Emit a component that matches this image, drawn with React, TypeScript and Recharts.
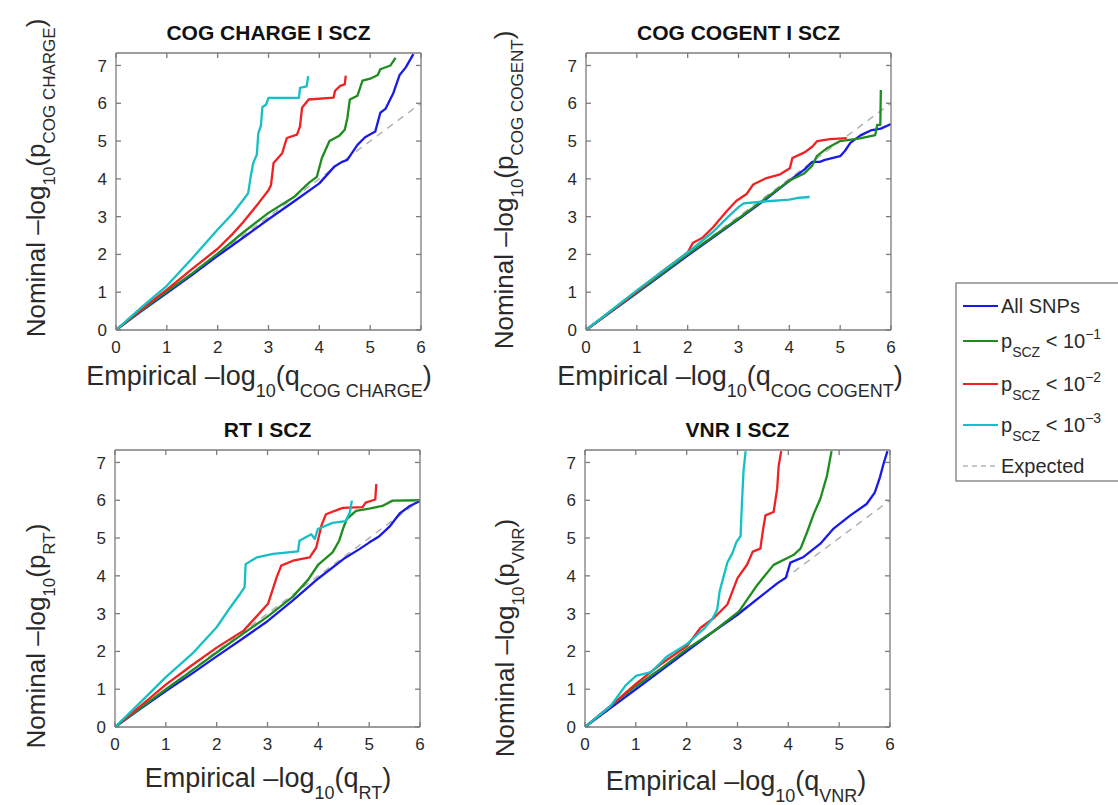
import React from 'react';
import { LineChart, Line, XAxis, YAxis } from 'recharts';

type Pt = [number, number];

// ---------- axes / categories ----------
const X_TICKS = [0, 1, 2, 3, 4, 5, 6];
const Y_TICKS = [0, 1, 2, 3, 4, 5, 6, 7];
const X_DOMAIN: [number, number] = [0, 6];
const Y_DOMAIN: [number, number] = [0, 7.33];

const PANEL_TITLES = ['COG CHARGE I SCZ', 'COG COGENT I SCZ', 'RT I SCZ', 'VNR I SCZ'];
const PANEL_SUBS = ['COG CHARGE', 'COG COGENT', 'RT', 'VNR'];
const LEGEND_LABELS = ['All SNPs', '10', '10', '10', 'Expected'];
const LEGEND_EXPONENTS = ['', '−1', '−2', '−3', ''];

// ---------- expected (null) line ----------
const expected: Pt[] = [[0, 0], [6, 6]];

// ---------- COG CHARGE | SCZ ----------
const chargeAll: Pt[] = [[0, 0], [0.5, 0.5], [1, 0.98], [1.5, 1.46], [2, 1.96], [2.5, 2.44], [3, 2.93], [3.5, 3.4], [4, 3.88], [4.3, 4.33], [4.45, 4.45], [4.55, 4.5], [4.6, 4.6], [4.75, 4.9], [4.9, 5.1], [5.1, 5.25], [5.2, 5.75], [5.3, 5.85], [5.45, 6.25], [5.58, 6.75], [5.7, 6.95], [5.85, 7.3]];
const chargeP1: Pt[] = [[0, 0], [0.5, 0.52], [1, 1.02], [1.5, 1.5], [2, 2.02], [2.5, 2.58], [3, 3.1], [3.5, 3.52], [3.8, 3.9], [3.95, 4.05], [4.05, 4.55], [4.2, 5.0], [4.4, 5.15], [4.5, 5.3], [4.55, 5.6], [4.6, 6.1], [4.75, 6.2], [4.85, 6.6], [5.0, 6.65], [5.15, 6.75], [5.2, 6.9], [5.4, 7.0], [5.5, 7.2]];
const chargeP2: Pt[] = [[0, 0], [0.5, 0.55], [1, 1.07], [1.5, 1.62], [2, 2.15], [2.3, 2.55], [2.5, 2.85], [2.8, 3.35], [3.0, 3.7], [3.05, 3.84], [3.1, 4.42], [3.27, 4.68], [3.36, 5.08], [3.56, 5.17], [3.62, 5.39], [3.66, 5.88], [3.79, 6.1], [4.28, 6.15], [4.31, 6.33], [4.41, 6.46], [4.5, 6.5], [4.52, 6.73]];
const chargeP3: Pt[] = [[0, 0], [0.5, 0.6], [1, 1.17], [1.5, 1.9], [2, 2.66], [2.3, 3.09], [2.5, 3.44], [2.6, 3.62], [2.65, 4.06], [2.7, 4.42], [2.77, 4.64], [2.8, 5.21], [2.85, 5.4], [2.88, 5.9], [2.95, 5.96], [3.0, 6.14], [3.6, 6.14], [3.62, 6.41], [3.75, 6.45], [3.78, 6.72]];

// ---------- COG COGENT | SCZ ----------
const cogentAll: Pt[] = [[0, 0], [1, 0.98], [2, 1.97], [3, 2.93], [3.5, 3.42], [4, 3.95], [4.3, 4.25], [4.45, 4.45], [4.6, 4.45], [4.7, 4.5], [5.0, 4.6], [5.1, 4.75], [5.2, 4.95], [5.4, 5.15], [5.6, 5.28], [5.8, 5.33], [6, 5.45]];
const cogentP1: Pt[] = [[0, 0], [1, 1.0], [2, 2.0], [3, 2.95], [3.5, 3.45], [4, 3.95], [4.3, 4.15], [4.45, 4.35], [4.54, 4.6], [4.73, 4.8], [5.0, 5.0], [5.39, 5.07], [5.69, 5.16], [5.73, 5.43], [5.79, 5.43], [5.8, 6.35]];
const cogentP2: Pt[] = [[0, 0], [1, 1.02], [1.5, 1.55], [2, 2.05], [2.1, 2.3], [2.3, 2.45], [2.5, 2.72], [2.77, 3.15], [2.96, 3.42], [3.16, 3.6], [3.29, 3.85], [3.55, 4.02], [3.82, 4.12], [4.01, 4.28], [4.06, 4.55], [4.3, 4.7], [4.45, 4.85], [4.55, 5.0], [4.8, 5.05], [5.13, 5.08]];
const cogentP3: Pt[] = [[0, 0], [1, 1.05], [1.5, 1.55], [2, 2.05], [2.5, 2.6], [2.8, 3.0], [3.0, 3.25], [3.1, 3.35], [3.5, 3.4], [4.0, 3.45], [4.2, 3.5], [4.4, 3.52]];

// ---------- RT | SCZ ----------
const rtAll: Pt[] = [[0, 0], [0.5, 0.48], [1, 0.95], [1.5, 1.4], [2, 1.87], [2.5, 2.33], [3, 2.8], [3.5, 3.35], [4, 3.93], [4.5, 4.45], [4.8, 4.7], [5, 4.88], [5.2, 5.05], [5.4, 5.3], [5.6, 5.65], [5.8, 5.85], [6, 5.98]];
const rtP1: Pt[] = [[0, 0], [0.5, 0.5], [1, 1.0], [1.5, 1.48], [2, 1.97], [2.5, 2.45], [3, 2.92], [3.5, 3.45], [3.8, 3.9], [4, 4.3], [4.28, 4.62], [4.41, 4.93], [4.5, 5.3], [4.56, 5.5], [4.74, 5.72], [5.0, 5.78], [5.26, 5.85], [5.46, 5.99], [6, 6.0]];
const rtP2: Pt[] = [[0, 0], [0.5, 0.55], [1, 1.12], [1.5, 1.62], [2, 2.1], [2.53, 2.55], [3.01, 3.26], [3.18, 3.96], [3.27, 4.27], [3.5, 4.4], [3.83, 4.49], [3.96, 4.75], [4.06, 5.33], [4.15, 5.63], [4.48, 5.8], [4.87, 5.82], [4.93, 5.94], [5.12, 6.02], [5.14, 6.43]];
const rtP3: Pt[] = [[0, 0], [0.5, 0.65], [1, 1.32], [1.52, 1.94], [2, 2.64], [2.27, 3.17], [2.46, 3.52], [2.55, 3.7], [2.57, 4.31], [2.79, 4.49], [3.11, 4.58], [3.6, 4.65], [3.63, 4.93], [3.86, 5.1], [3.93, 4.98], [3.99, 5.24], [4.28, 5.4], [4.54, 5.45], [4.62, 5.68], [4.66, 5.99]];

// ---------- VNR | SCZ ----------
const vnrAll: Pt[] = [[0, 0], [0.5, 0.5], [1, 1.0], [1.5, 1.5], [2, 2.0], [2.5, 2.5], [3, 2.97], [3.45, 3.45], [3.78, 3.8], [3.95, 3.95], [4.04, 4.35], [4.3, 4.5], [4.63, 4.85], [4.89, 5.25], [5.22, 5.6], [5.54, 5.9], [5.7, 6.2], [5.8, 6.6], [5.88, 7.0], [5.95, 7.3]];
const vnrP1: Pt[] = [[0, 0], [0.5, 0.55], [1, 1.08], [1.5, 1.55], [2, 2.06], [2.54, 2.54], [3.03, 3.06], [3.39, 3.76], [3.71, 4.29], [4.1, 4.55], [4.24, 4.72], [4.37, 5.16], [4.5, 5.64], [4.63, 6.04], [4.76, 6.65], [4.85, 7.3]];
const vnrP2: Pt[] = [[0, 0], [0.5, 0.55], [1, 1.14], [1.49, 1.66], [2.01, 2.15], [2.27, 2.62], [2.54, 2.89], [2.8, 3.24], [3.0, 3.94], [3.19, 4.3], [3.3, 4.64], [3.45, 4.72], [3.5, 5.2], [3.55, 5.6], [3.71, 5.69], [3.78, 6.3], [3.81, 6.91], [3.86, 7.3]];
const vnrP3: Pt[] = [[0, 0], [0.5, 0.55], [0.8, 1.1], [1.0, 1.35], [1.3, 1.45], [1.6, 1.85], [2.01, 2.2], [2.34, 2.6], [2.5, 2.85], [2.6, 3.1], [2.65, 3.6], [2.73, 4.0], [2.8, 4.35], [2.9, 4.6], [2.98, 4.9], [3.06, 5.05], [3.09, 6.0], [3.12, 6.8], [3.16, 7.3]];

// ---------- styling ----------
const FONT = '"Liberation Sans", Arial, Helvetica, sans-serif';
const C_BLUE = '#1a1ae8';
const C_GREEN = '#1e8c1e';
const C_RED = '#ee2222';
const C_CYAN = '#14c0c4';
const C_EXP = '#b4b4b4';
const FRAME = '#7c7c7c';
const TEXT = '#2a2a2a';
const SERIES_COLORS = [C_BLUE, C_GREEN, C_RED, C_CYAN];

const PLOT_W = 305;
const PLOT_H = 277;
const PAD_L = 60;
const PAD_T = 10;
const PAD_R = 10;
const PAD_B = 40;

const toData = (pts: Pt[]) => pts.map(([x, y]) => ({ x, y }));

interface PanelProps {
  left: number;
  top: number;
  series: Pt[][];
}

function Panel({ left, top, series }: PanelProps) {
  const W = PLOT_W + PAD_L + PAD_R;
  const H = PLOT_H + PAD_T + PAD_B;
  const tickStyle = { fill: TEXT, fontSize: 17, fontFamily: FONT };
  return (
    <div style={{ position: 'absolute', left: left - PAD_L, top: top - PAD_T, width: W, height: H }}>
      <LineChart width={W} height={H} margin={{ top: PAD_T - 1, right: PAD_R - 1, left: 0, bottom: 0 }}>
        <XAxis xAxisId="b" orientation="bottom" type="number" dataKey="x" domain={X_DOMAIN} ticks={X_TICKS} interval={0}
          allowDataOverflow height={PAD_B} tickSize={-5} tickMargin={16} stroke={FRAME} strokeWidth={1.3} tick={tickStyle} />
        <XAxis xAxisId="t" orientation="top" type="number" dataKey="x" domain={X_DOMAIN} ticks={X_TICKS} interval={0}
          allowDataOverflow height={1} tickSize={-5} stroke={FRAME} strokeWidth={1.3} tickFormatter={() => ''} />
        <YAxis yAxisId="l" orientation="left" type="number" dataKey="y" domain={Y_DOMAIN} ticks={Y_TICKS} interval={0}
          allowDataOverflow width={PAD_L} tickSize={-5} tickMargin={14} stroke={FRAME} strokeWidth={1.3} tick={tickStyle} />
        <YAxis yAxisId="r" orientation="right" type="number" dataKey="y" domain={Y_DOMAIN} ticks={Y_TICKS} interval={0}
          allowDataOverflow width={1} tickSize={-5} stroke={FRAME} strokeWidth={1.3} tickFormatter={() => ''} />
        <Line xAxisId="b" yAxisId="l" data={toData(expected)} dataKey="y" type="linear" stroke={C_EXP}
          strokeWidth={1.6} strokeDasharray="7 6" dot={false} activeDot={false} isAnimationActive={false} />
        {series.map((s, i) => (
          <Line key={i} xAxisId="b" yAxisId="l" data={toData(s)} dataKey="y" type="linear" stroke={SERIES_COLORS[i]}
            strokeWidth={2.3} strokeLinejoin="round" dot={false} activeDot={false} isAnimationActive={false} />
        ))}
      </LineChart>
    </div>
  );
}

function XLabel({ cx, y, sub }: { cx: number; y: number; sub: string }) {
  return (
    <text x={cx} y={y} textAnchor="middle" fontSize={27} fill={TEXT} fontFamily={FONT}>
      Empirical –log<tspan fontSize={18} dy={12}>10</tspan><tspan dy={-12}>(q</tspan><tspan fontSize={18} dy={12}>{sub}</tspan><tspan dy={-12}>)</tspan>
    </text>
  );
}

function YLabel({ x, cy, sub }: { x: number; cy: number; sub: string }) {
  return (
    <text x={x} y={cy} transform={`rotate(-90 ${x} ${cy})`} textAnchor="middle" fontSize={26} fill={TEXT} fontFamily={FONT}>
      Nominal –log<tspan fontSize={17} dy={10}>10</tspan><tspan dy={-10}>(p</tspan><tspan fontSize={17} dy={10}>{sub}</tspan><tspan dy={-10}>)</tspan>
    </text>
  );
}

const PANELS = [
  { left: 116, top: 53, series: [chargeAll, chargeP1, chargeP2, chargeP3] },
  { left: 586, top: 53, series: [cogentAll, cogentP1, cogentP2, cogentP3] },
  { left: 115, top: 450, series: [rtAll, rtP1, rtP2, rtP3] },
  { left: 585, top: 450, series: [vnrAll, vnrP1, vnrP2, vnrP3] },
];

const XLABEL_POS = [{ cx: 259, y: 385 }, { cx: 730, y: 385 }, { cx: 268, y: 787 }, { cx: 736, y: 790 }];
const YLABEL_POS = [{ x: 45, cy: 178 }, { x: 513, cy: 190 }, { x: 45, cy: 636 }, { x: 514, cy: 638 }];

function Legend() {
  const ys = [306, 341, 384, 425, 466];
  const colors = [C_BLUE, C_GREEN, C_RED, C_CYAN, C_EXP];
  return (
    <g fontFamily={FONT}>
      <rect x={956} y={283} width={200} height={198} fill="#fff" stroke={FRAME} strokeWidth={1.3} />
      {ys.map((y, i) => (
        <g key={i}>
          <line x1={963} x2={998} y1={y} y2={y} stroke={colors[i]} strokeWidth={i === 4 ? 1.4 : 2}
            strokeDasharray={i === 4 ? '5 4' : undefined} />
          {i === 0 || i === 4 ? (
            <text x={1001} y={y + 7} fontSize={20} fill={TEXT}>{LEGEND_LABELS[i]}</text>
          ) : (
            <text x={1001} y={y + 7} fontSize={20} fill={TEXT}>
              p<tspan fontSize={14} dy={9}>SCZ</tspan><tspan dy={-9}> &lt; {LEGEND_LABELS[i]}</tspan><tspan fontSize={14} dy={-9}>{LEGEND_EXPONENTS[i]}</tspan>
            </text>
          )}
        </g>
      ))}
    </g>
  );
}

export default function App() {
  return (
    <div style={{ position: 'absolute', left: 0, top: 0, width: 1118, height: 805, background: '#fff', overflow: 'hidden', fontFamily: FONT }}>
      {PANELS.map((p, i) => (
        <Panel key={i} left={p.left} top={p.top} series={p.series} />
      ))}
      <svg width={1118} height={805} style={{ position: 'absolute', left: 0, top: 0, pointerEvents: 'none' }}>
        {PANELS.map((p, i) => (
          <text key={`t${i}`} x={p.left + PLOT_W / 2} y={p.top - 13} textAnchor="middle" fontSize={21} fontWeight="bold" fill="#111" fontFamily={FONT}>
            {PANEL_TITLES[i]}
          </text>
        ))}
        {XLABEL_POS.map((pos, i) => (
          <XLabel key={`x${i}`} cx={pos.cx} y={pos.y} sub={PANEL_SUBS[i]} />
        ))}
        {YLABEL_POS.map((pos, i) => (
          <YLabel key={`y${i}`} x={pos.x} cy={pos.cy} sub={PANEL_SUBS[i]} />
        ))}
        <Legend />
      </svg>
    </div>
  );
}
